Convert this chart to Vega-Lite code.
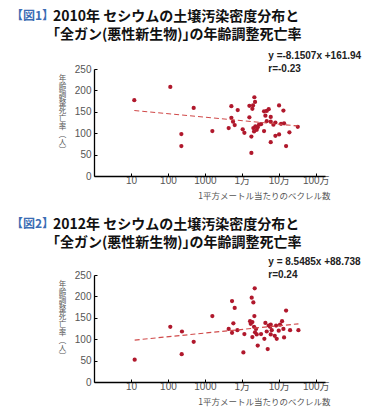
{
  "$schema": "https://vega.github.io/schema/vega-lite/v6.json",
  "padding": {"left": 11, "top": 9, "right": 5, "bottom": 3},
  "spacing": 17,
  "background": "white",
  "config": {
    "view": {"stroke": null},
    "axis": {
      "grid": false,
      "domainColor": "#000",
      "domainWidth": 1.3,
      "tickColor": "#000",
      "tickWidth": 1,
      "tickSize": -3,
      "labelColor": "#555",
      "labelFont": "Liberation Sans, Noto Sans CJK JP",
      "labelFontSize": 10,
      "labelOverlap": false,
      "titleColor": "#555",
      "titleFont": "Noto Sans CJK JP",
      "titleFontWeight": "normal"
    },
    "title": {
      "anchor": "start",
      "frame": "group",
      "dx": -83,
      "font": "Noto Sans CJK JP",
      "fontSize": 12,
      "fontWeight": "bold",
      "color": "#3b6db4",
      "subtitleFont": "Noto Sans CJK JP",
      "subtitleFontSize": 14,
      "subtitleFontWeight": "bold",
      "subtitleColor": "#111",
      "subtitleLineHeight": 18.5,
      "subtitlePadding": -13
    }
  },
  "datasets": {
    "p2010": [
      {"bq": 12.3, "rate": 177}, {"bq": 116, "rate": 208}, {"bq": 231, "rate": 98}, {"bq": 231, "rate": 70},
      {"bq": 498, "rate": 159}, {"bq": 1592, "rate": 105}, {"bq": 4406, "rate": 112}, {"bq": 5210, "rate": 163},
      {"bq": 5210, "rate": 136}, {"bq": 5780, "rate": 127}, {"bq": 6410, "rate": 119}, {"bq": 7730, "rate": 154},
      {"bq": 10550, "rate": 109}, {"bq": 11720, "rate": 101}, {"bq": 16000, "rate": 164}, {"bq": 16000, "rate": 137},
      {"bq": 18120, "rate": 92}, {"bq": 18120, "rate": 54}, {"bq": 19280, "rate": 157}, {"bq": 20100, "rate": 165},
      {"bq": 21830, "rate": 184}, {"bq": 22760, "rate": 173}, {"bq": 20500, "rate": 112}, {"bq": 21400, "rate": 104},
      {"bq": 23200, "rate": 116}, {"bq": 25300, "rate": 108}, {"bq": 26900, "rate": 114}, {"bq": 29200, "rate": 120},
      {"bq": 33100, "rate": 121}, {"bq": 39900, "rate": 105}, {"bq": 39900, "rate": 151}, {"bq": 43400, "rate": 141},
      {"bq": 47100, "rate": 152}, {"bq": 53400, "rate": 156}, {"bq": 47100, "rate": 128}, {"bq": 60500, "rate": 138},
      {"bq": 60500, "rate": 127}, {"bq": 60500, "rate": 79}, {"bq": 71400, "rate": 120}, {"bq": 80900, "rate": 125},
      {"bq": 80900, "rate": 94}, {"bq": 101700, "rate": 165}, {"bq": 101700, "rate": 97}, {"bq": 115100, "rate": 122},
      {"bq": 133300, "rate": 153}, {"bq": 138900, "rate": 123}, {"bq": 157400, "rate": 70}, {"bq": 193700, "rate": 102},
      {"bq": 326000, "rate": 115}
    ],
    "t2010": [{"bq": 12.3, "rate": 153}, {"bq": 326000, "rate": 117}],
    "p2012": [
      {"bq": 12.6, "rate": 52}, {"bq": 116, "rate": 129}, {"bq": 240, "rate": 118}, {"bq": 236, "rate": 65},
      {"bq": 498, "rate": 94}, {"bq": 1592, "rate": 154}, {"bq": 4406, "rate": 124}, {"bq": 5430, "rate": 189},
      {"bq": 5900, "rate": 137}, {"bq": 5430, "rate": 115}, {"bq": 6410, "rate": 173}, {"bq": 7570, "rate": 121},
      {"bq": 11010, "rate": 69}, {"bq": 11720, "rate": 112}, {"bq": 16670, "rate": 142}, {"bq": 17380, "rate": 136},
      {"bq": 18490, "rate": 197}, {"bq": 19280, "rate": 140}, {"bq": 20500, "rate": 186}, {"bq": 22300, "rate": 219},
      {"bq": 21830, "rate": 154}, {"bq": 19280, "rate": 105}, {"bq": 21400, "rate": 129}, {"bq": 22760, "rate": 116},
      {"bq": 24200, "rate": 124}, {"bq": 25300, "rate": 111}, {"bq": 26900, "rate": 85}, {"bq": 33100, "rate": 112},
      {"bq": 40700, "rate": 101}, {"bq": 43400, "rate": 138}, {"bq": 47100, "rate": 118}, {"bq": 50100, "rate": 77},
      {"bq": 53400, "rate": 132}, {"bq": 58100, "rate": 129}, {"bq": 60500, "rate": 134}, {"bq": 64400, "rate": 121},
      {"bq": 60500, "rate": 111}, {"bq": 77700, "rate": 108}, {"bq": 84400, "rate": 132}, {"bq": 87900, "rate": 101},
      {"bq": 99600, "rate": 120}, {"bq": 108100, "rate": 134}, {"bq": 122500, "rate": 142}, {"bq": 133300, "rate": 124},
      {"bq": 138900, "rate": 104}, {"bq": 157400, "rate": 167}, {"bq": 201900, "rate": 121}, {"bq": 339800, "rate": 121}
    ],
    "t2012": [{"bq": 12.6, "rate": 98}, {"bq": 339800, "rate": 136}]
  },
  "vconcat": [
    {
      "width": 231,
      "height": 107,
      "title": {
        "text": "【図1】",
        "offset": 8,
        "subtitle": ["\u200b\u3000\u3000\u30002010年 セシウムの土壌汚染密度分布と", "\u200b\u3000\u3000\u3000｢全ガン(悪性新生物)｣の年齢調整死亡率"]
      },
      "layer": [
        {
          "data": {"name": "p2010"},
          "mark": {"type": "circle", "size": 18, "opacity": 1, "color": "#b0182c"},
          "encoding": {
            "x": {"field": "bq", "type": "quantitative",
              "scale": {"type": "log", "domain": [1, 1778279], "nice": false},
              "axis": {"values": [10, 100, 1000, 10000, 100000, 1000000], "tickCount": 6,
                "labelExpr": "datum.value >= 10000 ? format(datum.value / 10000, 'd') + '万' : format(datum.value, 'd')",
                "labelPadding": 2, "labelFlush": false, "labelOverlap": false,
                "title": "1平方メートル当たりのベクレル数", "titleFontSize": 8.5,
                "titleAnchor": "end", "titleAlign": "right", "titleX": 236, "titlePadding": 6}},
            "y": {"field": "rate", "type": "quantitative",
              "scale": {"domain": [0, 250], "nice": false},
              "axis": {"values": [0, 50, 100, 150, 200, 250], "tickCount": 6, "labelPadding": 6, "labelOverlap": false, "labelFlush": false,
                "title": ["年", "齢", "調", "整", "死", "亡", "率", "︵", "人", "︶"],
                "titleAngle": 0, "titleFontSize": 7.5, "titleLineHeight": 8,
                "titleAlign": "center", "titleBaseline": "top", "titleX": -32, "titleY": 5}}
          }
        },
        {
          "data": {"name": "t2010"},
          "mark": {"type": "line", "color": "#d04a4a", "strokeWidth": 1.2, "strokeDash": [5, 3]},
          "encoding": {
            "x": {"field": "bq", "type": "quantitative"},
            "y": {"field": "rate", "type": "quantitative"}
          }
        },
        {
          "data": {"values": [{"label": "y =-8.1507x +161.94\nr=-0.23"}]},
          "mark": {"type": "text", "align": "left", "baseline": "alphabetic", "lineBreak": "\n", "lineHeight": 12.7,
            "font": "Liberation Sans", "fontSize": 10, "fontWeight": "bold", "color": "#222"},
          "encoding": {
            "x": {"datum": 52000, "type": "quantitative"},
            "y": {"datum": 272.7, "type": "quantitative"},
            "text": {"field": "label"}
          }
        }
      ]
    },
    {
      "width": 231,
      "height": 107,
      "title": {
        "text": "【図2】",
        "offset": 6,
        "subtitle": ["\u200b\u3000\u3000\u30002012年 セシウムの土壌汚染密度分布と", "\u200b\u3000\u3000\u3000｢全ガン(悪性新生物)｣の年齢調整死亡率"]
      },
      "layer": [
        {
          "data": {"name": "p2012"},
          "mark": {"type": "circle", "size": 18, "opacity": 1, "color": "#b0182c"},
          "encoding": {
            "x": {"field": "bq", "type": "quantitative",
              "scale": {"type": "log", "domain": [1, 1778279], "nice": false},
              "axis": {"values": [10, 100, 1000, 10000, 100000, 1000000], "tickCount": 6,
                "labelExpr": "datum.value >= 10000 ? format(datum.value / 10000, 'd') + '万' : format(datum.value, 'd')",
                "labelPadding": 2, "labelFlush": false, "labelOverlap": false,
                "title": "1平方メートル当たりのベクレル数", "titleFontSize": 8.5,
                "titleAnchor": "end", "titleAlign": "right", "titleX": 236, "titlePadding": 6}},
            "y": {"field": "rate", "type": "quantitative",
              "scale": {"domain": [0, 250], "nice": false},
              "axis": {"values": [0, 50, 100, 150, 200, 250], "tickCount": 6, "labelPadding": 6, "labelOverlap": false, "labelFlush": false,
                "title": ["年", "齢", "調", "整", "死", "亡", "率", "︵", "人", "︶"],
                "titleAngle": 0, "titleFontSize": 7.5, "titleLineHeight": 8,
                "titleAlign": "center", "titleBaseline": "top", "titleX": -32, "titleY": 5}}
          }
        },
        {
          "data": {"name": "t2012"},
          "mark": {"type": "line", "color": "#d04a4a", "strokeWidth": 1.2, "strokeDash": [5, 3]},
          "encoding": {
            "x": {"field": "bq", "type": "quantitative"},
            "y": {"field": "rate", "type": "quantitative"}
          }
        },
        {
          "data": {"values": [{"label": "y = 8.5485x +88.738\nr=0.24"}]},
          "mark": {"type": "text", "align": "left", "baseline": "alphabetic", "lineBreak": "\n", "lineHeight": 12.7,
            "font": "Liberation Sans", "fontSize": 10, "fontWeight": "bold", "color": "#222"},
          "encoding": {
            "x": {"datum": 52000, "type": "quantitative"},
            "y": {"datum": 272.7, "type": "quantitative"},
            "text": {"field": "label"}
          }
        }
      ]
    }
  ]
}
